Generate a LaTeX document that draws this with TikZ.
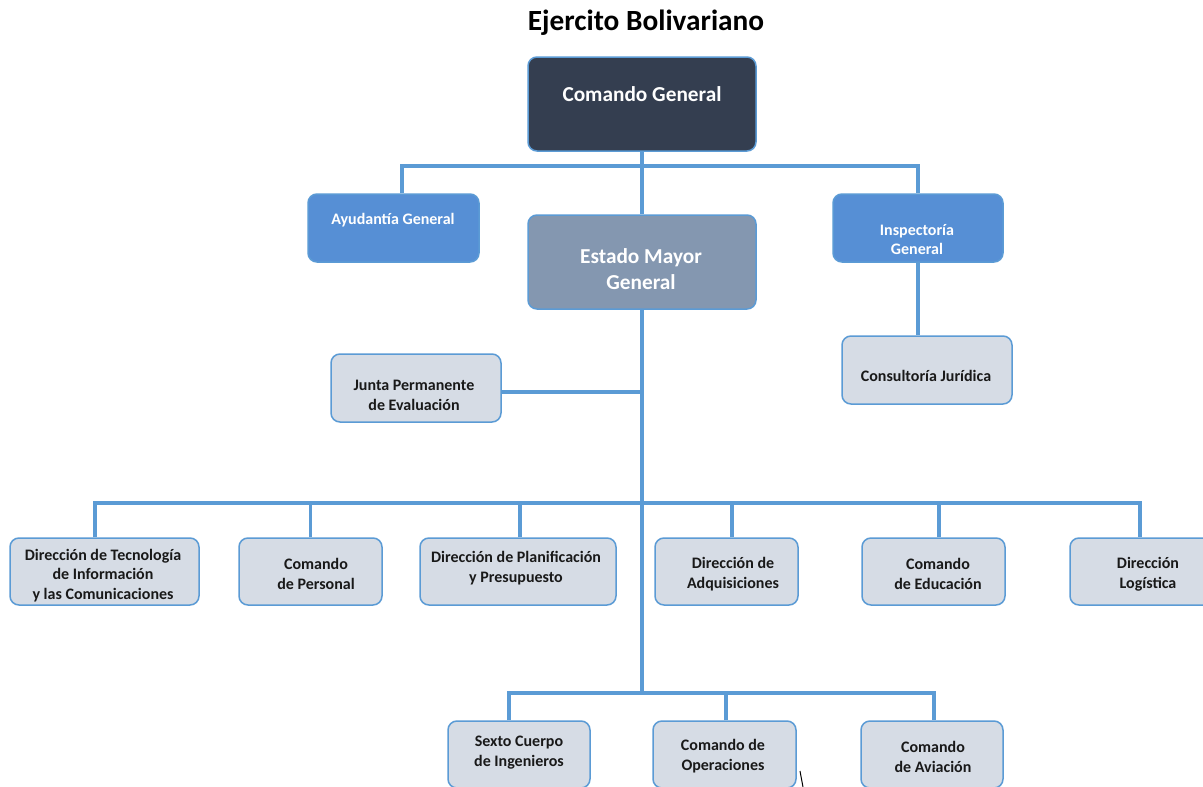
\documentclass[tikz,border=0pt]{standalone}
\usepackage{fontspec}
\setmainfont{Carlito}
\definecolor{cdark}{RGB}{52,62,80}
\definecolor{cblue}{RGB}{86,143,213}
\definecolor{cgrayb}{RGB}{132,151,176}
\definecolor{clight}{RGB}{214,220,229}
\definecolor{cline}{RGB}{91,155,213}
\tikzset{
  box/.style={draw=cline, line width=1.5pt, rounded corners=9pt, inner sep=0pt},
  conn/.style={draw=cline, line width=3.3pt},
  bigtxt/.style={font=\bfseries\fontsize{21.3}{26}\selectfont, align=center, inner sep=0pt, text=white},
  midtxt/.style={font=\bfseries\fontsize{16}{19}\selectfont, align=center, inner sep=0pt, text=white},
  smtxt/.style={font=\bfseries\fontsize{16}{19.8}\selectfont, align=center, inner sep=0pt, text=black!90},
}
\begin{document}
\begin{tikzpicture}[x=1pt,y=-1pt]
\useasboundingbox (0,0) rectangle (1203,787);
\clip (0,0) rectangle (1203,787);
\fill[white] (0,0) rectangle (1203,787);

\node[font=\bfseries\fontsize{29.3}{34}\selectfont, inner sep=0pt] (title) at (646,23) {Ejercito Bolivariano};

% boxes
\node[box, fill=cdark, minimum width=228pt, minimum height=94pt] (cg) at (642,104) {};
\node[box, fill=cblue, minimum width=171pt, minimum height=68pt] (ag) at (393.5,228) {};
\node[box, fill=cgrayb, minimum width=228pt, minimum height=94pt] (em) at (642,262) {};
\node[box, fill=cblue, minimum width=170pt, minimum height=68pt] (ig) at (918,228) {};
\node[box, fill=clight, minimum width=170pt, minimum height=68pt] (cj) at (927,370) {};
\node[box, fill=clight, minimum width=170pt, minimum height=68pt] (jp) at (416,388) {};

\node[box, fill=clight, minimum width=189pt, minimum height=67pt] (t1) at (104.5,571.5) {};
\node[box, fill=clight, minimum width=143pt, minimum height=67pt] (t2) at (310.5,571.5) {};
\node[box, fill=clight, minimum width=196pt, minimum height=67pt] (t3) at (518,571.5) {};
\node[box, fill=clight, minimum width=143pt, minimum height=67pt] (t4) at (726.5,571.5) {};
\node[box, fill=clight, minimum width=143pt, minimum height=67pt] (t5) at (933.5,571.5) {};
\node[box, fill=clight, minimum width=143pt, minimum height=67pt] (t6) at (1141.5,571.5) {};

\node[box, fill=clight, minimum width=142pt, minimum height=67pt] (b1) at (519,754.5) {};
\node[box, fill=clight, minimum width=143pt, minimum height=67pt] (b2) at (724.5,754.5) {};
\node[box, fill=clight, minimum width=142pt, minimum height=67pt] (b3) at (932,754.5) {};

% texts
\node[bigtxt] (tcg) at (642,94) {Comando General};
\node[midtxt] (tag) at (393,220) {Ayudantía General};
\node[bigtxt] (tem) at (641,269) {Estado Mayor\\General};
\node[midtxt] (tig) at (917,239.5) {Inspectoría\\General};
\node[smtxt] (tcj) at (926,375.5) {Consultoría Jurídica};
\node[smtxt] (tjp) at (414,395) {Junta Permanente\\de Evaluación};
\node[smtxt] (tt1) at (103,575.5) {Dirección de Tecnología\\de Información\\y las Comunicaciones};
\node[smtxt] (tt2) at (316,574) {Comando\\de Personal};
\node[smtxt] (tt3) at (516,568.5) {Dirección de Planificación\\y Presupuesto};
\node[smtxt] (tt4) at (733,574) {Dirección de\\Adquisiciones};
\node[smtxt] (tt5) at (938,574) {Comando\\de Educación};
\node[smtxt] (tt6) at (1148,574) {Dirección\\Logística};
\node[smtxt] (tb1) at (519,753) {Sexto Cuerpo\\de Ingenieros};
\node[smtxt] (tb2) at (723,756) {Comando de\\Operaciones};
\node[smtxt] (tb3) at (933,757) {Comando\\de Aviación};

% coordinates
\coordinate (xA) at (402,0);
\coordinate (yA) at (0,166);
\coordinate (yJ) at (0,392);
\coordinate (yR) at (0,503);
\coordinate (yB) at (0,693);
\coordinate (x1) at (95,0);
\coordinate (x3) at (520,0);
\coordinate (x4) at (732,0);
\coordinate (x5) at (939,0);
\coordinate (x6) at (1140,0);
\coordinate (xb1) at (509,0);
\coordinate (xb2) at (726,0);
\coordinate (xb3) at (934,0);

% connectors
\draw[conn] (cg.south) -- (em.north);
\draw[conn] (ag.north -| xA) |- (yA -| ig.north) -- (ig.north);
\draw[conn] (ig.south) -- (cj.north -| ig.south);
\draw[conn] (em.south) -- (yB -| em.south);
\draw[conn] (jp.east |- yJ) -- (yJ -| em.south);
\draw[conn] (t1.north -| x1) |- (yR -| x6) -- (t6.north -| x6);
\draw[conn] (t2.north) -- (yR -| t2.north);
\draw[conn] (t3.north -| x3) -- (yR -| x3);
\draw[conn] (t4.north -| x4) -- (yR -| x4);
\draw[conn] (t5.north -| x5) -- (yR -| x5);
\draw[conn] (b1.north -| xb1) |- (yB -| xb3) -- (b3.north -| xb3);
\draw[conn] (b2.north -| xb2) -- (yB -| xb2);

% stray mark
\coordinate (m1) at (800,771);
\coordinate (m2) at (803,787);
\draw[black, line width=1pt] (m1) -- (m2);
\end{tikzpicture}
\end{document}
